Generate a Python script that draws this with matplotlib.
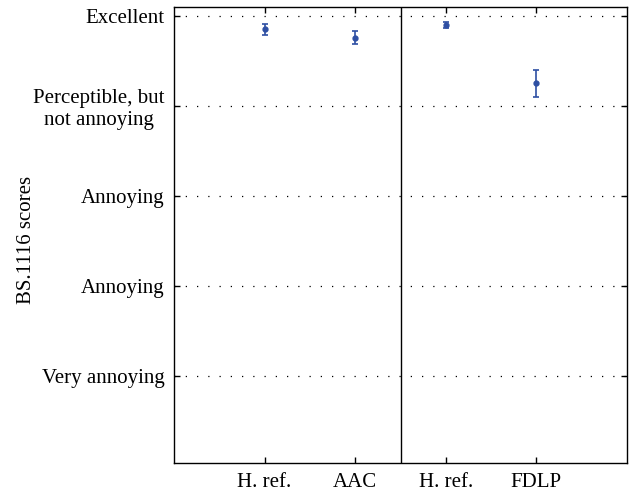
import matplotlib
matplotlib.use("Agg")
import matplotlib.pyplot as plt

# data
codecs = ["H. ref.", "AAC", "H. ref.", "FDLP"]
scores = [4.85, 4.76, 4.90, 4.25]
errs = [0.06, 0.07, 0.035, 0.15]
ytick_vals = [1, 2, 3, 4, 5]
ytick_labels = ["Very annoying", "Annoying", "Annoying",
                "Perceptible, but\nnot annoying", "Excellent"]

plt.rcParams["font.family"] = ["Liberation Serif", "DejaVu Serif"]
plt.rcParams["font.size"] = 15

fig = plt.figure(figsize=(6.3, 4.93), dpi=100)
ax = fig.add_axes([174 / 630, 1 - 463 / 493, (627 - 174) / 630, (463 - 7) / 493])

xs = [1, 2, 3, 4]
ax.errorbar(xs, scores, yerr=errs, fmt="o", color="#2e4fa3", ms=3.5,
            capsize=2.5, elinewidth=1.2, capthick=1.2)

ax.axvline(2.5, color="black", lw=1)
ax.set_xlim(0, 5)
ax.set_ylim(0.03, 5.1)
ax.set_xticks(xs)
ax.set_xticklabels(codecs)
ax.set_yticks(ytick_vals)
ax.set_yticklabels(ytick_labels, multialignment="center", linespacing=1.15)
ax.yaxis.grid(True, linestyle=(0, (1, 8)), color="black", lw=0.9)
ax.tick_params(direction="in", top=True, right=True, length=4, width=1)
ax.tick_params(axis="x", pad=7)
ax.tick_params(axis="y", pad=7)
ax.set_ylabel("BS.1116 scores")
ax.yaxis.set_label_coords(-0.305, 0.49)
for s in ax.spines.values():
    s.set_linewidth(1)

fig.savefig("out.png", dpi=100)
